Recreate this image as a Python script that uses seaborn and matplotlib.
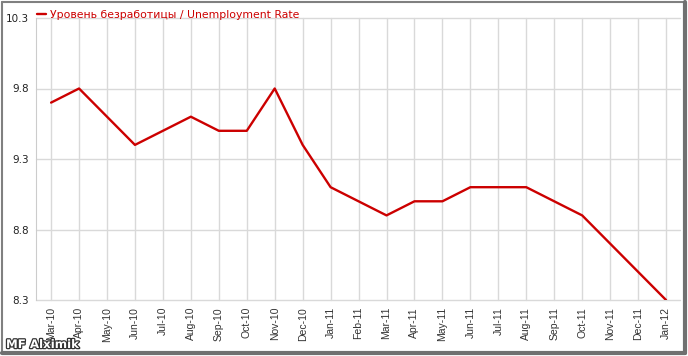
import matplotlib
matplotlib.use("Agg")
import matplotlib.pyplot as plt
import matplotlib.patheffects as pe
from matplotlib.lines import Line2D
import seaborn as sns
import pandas as pd

months = ["Mar-10", "Apr-10", "May-10", "Jun-10", "Jul-10", "Aug-10", "Sep-10",
          "Oct-10", "Nov-10", "Dec-10", "Jan-11", "Feb-11", "Mar-11", "Apr-11",
          "May-11", "Jun-11", "Jul-11", "Aug-11", "Sep-11", "Oct-11", "Nov-11",
          "Dec-11", "Jan-12"]
rate = [9.7, 9.8, 9.6, 9.4, 9.5, 9.6, 9.5, 9.5, 9.8, 9.4, 9.1, 9.0, 8.9, 9.0,
        9.0, 9.1, 9.1, 9.1, 9.0, 8.9, 8.7, 8.5, 8.3]
yticks = [8.3, 8.8, 9.3, 9.8, 10.3]
series_name = "Уровень безработицы / Unemployment Rate"

sns.set_style("white")
plt.rcParams['font.family'] = ['DejaVu Sans']

df = pd.DataFrame({"idx": range(len(months)), "rate": rate})

fig = plt.figure(figsize=(6.88, 3.56), dpi=100)
ax = fig.add_axes([36/688, 1 - 300/356, (680-36)/688, (300-18)/356])

sns.lineplot(data=df, x="idx", y="rate", ax=ax, color="#cc0000", linewidth=1.7,
             label=series_name, zorder=5)

ax.set_xlim(-0.54, len(months) - 1 + 0.5)
ax.set_ylim(8.3, 10.3)
ax.set_xticks(range(len(months)))
ax.set_xticklabels(months, rotation=90, fontsize=7.5, color="#333333",
                   family=["Liberation Sans", "DejaVu Sans"])
ax.set_yticks(yticks)
ax.set_yticklabels([f"{v:.1f}" for v in yticks], fontsize=7.5, color="#222222")
ax.set_xlabel("")
ax.set_ylabel("")
ax.grid(True, color="#d9d9d9", linewidth=1)
for gl in ax.get_ygridlines() + ax.get_xgridlines():
    gl.set_clip_on(False)
for s in ["top", "right", "bottom"]:
    ax.spines[s].set_visible(False)
ax.spines["left"].set_color("#cccccc")
ax.tick_params(axis="y", length=3, color="#cccccc", pad=2)
ax.tick_params(axis="x", length=3, color="#cccccc", pad=2)

leg = ax.legend(loc="lower left", bbox_to_anchor=(0.0, 0.99), frameon=False,
                fontsize=7.8, handlelength=0.8, handletextpad=0.4, borderaxespad=0,
                borderpad=0.1)
for t in leg.get_texts():
    t.set_color("#cc0000")

fig.text(6/688, 1 - 348/356, "MF Alximik", fontsize=8.5, fontweight="bold", color="white",
         ha="left", va="baseline",
         path_effects=[pe.withStroke(linewidth=1.8, foreground="#333333")])

# outer frame
fig.add_artist(Line2D([2/688, 2/688], [1 - 352/356, 1 - 2/356], transform=fig.transFigure, color="#808080", lw=1.5))
fig.add_artist(Line2D([2/688, 685/688], [1 - 2/356, 1 - 2/356], transform=fig.transFigure, color="#808080", lw=1.5))
fig.add_artist(Line2D([685/688, 685/688], [1 - 353/356, 1 - 2/356], transform=fig.transFigure, color="#707070", lw=3))
fig.add_artist(Line2D([2/688, 685/688], [1 - 353/356, 1 - 353/356], transform=fig.transFigure, color="#707070", lw=3))

fig.savefig("out.png", dpi=100)
